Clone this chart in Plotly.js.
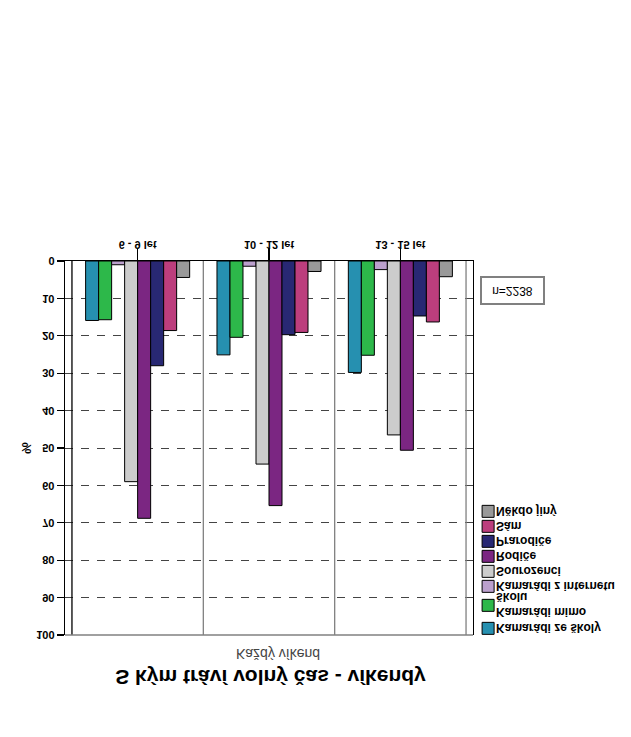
<!DOCTYPE html>
<html>
<head>
<meta charset="utf-8">
<script src="https://cdn.plot.ly/plotly-3.0.1.min.js"></script>
<style>
html, body { margin: 0; padding: 0; background: #fff; }
#chart { width: 631px; height: 737px; transform: scaleY(-1); transform-origin: 50% 50%; }
</style>
</head>
<body>
<div id="chart"></div>
<script>
const categories = ['6 - 9 let', '10 - 12 let', '13 - 15 let'];
const seriesNames = ['Kamarádi ze školy', 'Kamarádi mimo<br>školu', 'Kamarádi z internetu', 'Sourozenci', 'Rodiče', 'Prarodiče', 'Sám', 'Někdo jiný'];
const zeSkoly = [15.9, 25.1, 29.8];
const mimoSkolu = [15.7, 20.4, 25.2];
const zInternetu = [1.0, 1.4, 2.3];
const sourozenci = [59.0, 54.3, 46.5];
const rodice = [68.8, 65.4, 50.6];
const prarodice = [28.0, 19.7, 14.7];
const sam = [18.6, 19.1, 16.3];
const nekdoJiny = [4.4, 2.8, 4.2];
const seriesValues = [zeSkoly, mimoSkolu, zInternetu, sourozenci, rodice, prarodice, sam, nekdoJiny];
const colors = ['#2690B0', '#2DB84A', '#BBA0CD', '#CCCCCC', '#7B2682', '#282873', '#BC3E7D', '#999999'];
const yTicks = [0, 10, 20, 30, 40, 50, 60, 70, 80, 90, 100];

const FONT = 'Liberation Sans, Arial, sans-serif';

const traces = seriesNames.map((name, i) => ({
  type: 'bar',
  name: name,
  x: categories,
  y: seriesValues[i],
  marker: { color: colors[i], line: { color: '#000', width: 1 } },
  hoverinfo: 'x+y+name'
}));

const vline = (x, color) => ({
  type: 'line', xref: 'x', yref: 'paper', x0: x, x1: x, y0: 0, y1: 1,
  line: { color: color, width: 1.3 }, layer: 'above'
});

const layout = {
  width: 631, height: 737,
  margin: { l: 65, r: 158, t: 102, b: 261, autoexpand: false },
  paper_bgcolor: '#fff', plot_bgcolor: '#fff',
  font: { family: FONT, color: '#000', size: 11 },
  showlegend: true,
  barmode: 'group',
  bargap: 0.208,
  bargroupgap: 0,
  title: {
    text: '<b>S kým tráví volný čas - víkendy</b>',
    font: { family: FONT, size: 21, color: '#000' },
    xref: 'container', x: 0.4287, xanchor: 'center',
    yref: 'container', y: 0.919, yanchor: 'middle'
  },
  xaxis: {
    type: 'category',
    categoryorder: 'array', categoryarray: categories,
    range: [-0.553, 2.553],
    showline: true, linecolor: '#000', linewidth: 1.3,
    ticks: 'outside', ticklen: 12, tickcolor: '#000', tickwidth: 1.3,
    ticklabelstandoff: -6,
    tickfont: { family: FONT, size: 11, weight: 'bold' },
    showgrid: false, zeroline: false, fixedrange: true
  },
  yaxis: {
    range: [0, 100],
    tickvals: yTicks, ticktext: yTicks.map(String),
    showline: true, linecolor: '#000', linewidth: 1.3, mirror: true,
    ticks: 'outside', ticklen: 7, tickcolor: '#000', tickwidth: 1.3,
    tickfont: { family: FONT, size: 11, weight: 'bold' },
    showgrid: true, gridcolor: '#444', gridwidth: 1, griddash: '8px,8px',
    zeroline: false,
    title: { text: '<b>%</b>', font: { family: FONT, size: 13 }, standoff: 1 },
    fixedrange: true
  },
  legend: {
    x: 0.988, xanchor: 'left', y: 1.021, yanchor: 'top',
    font: { family: FONT, size: 12, weight: 'bold' },
    bgcolor: 'rgba(0,0,0,0)', borderwidth: 0,
    traceorder: 'normal', tracegroupgap: 0
  },
  shapes: [
    vline(-0.5, '#000'), vline(0.5, '#808080'), vline(1.5, '#808080'), vline(2.5, '#808080'),
    { type: 'line', xref: 'paper', yref: 'paper', x0: 0, x1: 1, y0: 1, y1: 1, line: { color: '#808080', width: 1.5 } }
  ],
  annotations: [
    {
      text: 'Každý víkend', xref: 'paper', yref: 'paper', x: 0.522, y: 1.0508,
      xanchor: 'center', yanchor: 'middle', showarrow: false,
      font: { family: FONT, size: 14, color: '#444' }
    },
    {
      text: 'n=2238', xref: 'paper', yref: 'paper', x: 1.096, y: 0.08,
      xanchor: 'center', yanchor: 'middle', showarrow: false,
      width: 59, height: 23, bordercolor: '#808080', borderwidth: 2,
      font: { family: FONT, size: 12, color: '#000' }
    }
  ]
};

// compact legend spacing (rows relative to first entry) and text gap
const legendRowOffsets = [0, 23, 42, 57, 72, 87, 102, 117];
Plotly.newPlot('chart', traces, layout, { displayModeBar: false, staticPlot: true }).then(gd => {
  const items = gd.querySelectorAll('.legend .traces');
  let baseY = null;
  items.forEach((g, i) => {
    const m = /translate\(\s*([-\d.]+)[ ,]+([-\d.]+)\s*\)/.exec(g.getAttribute('transform') || '');
    if (!m) return;
    const tx = parseFloat(m[1]);
    const ty = parseFloat(m[2]);
    if (baseY === null) baseY = ty;
    g.setAttribute('transform', 'translate(' + tx + ',' + (baseY + legendRowOffsets[i]) + ')');
    g.querySelectorAll('.legendtext, .legendtext tspan.line').forEach(t => {
      if (t.hasAttribute('x')) t.setAttribute('x', String(parseFloat(t.getAttribute('x')) - 12));
    });
  });
});
</script>
</body>
</html>
